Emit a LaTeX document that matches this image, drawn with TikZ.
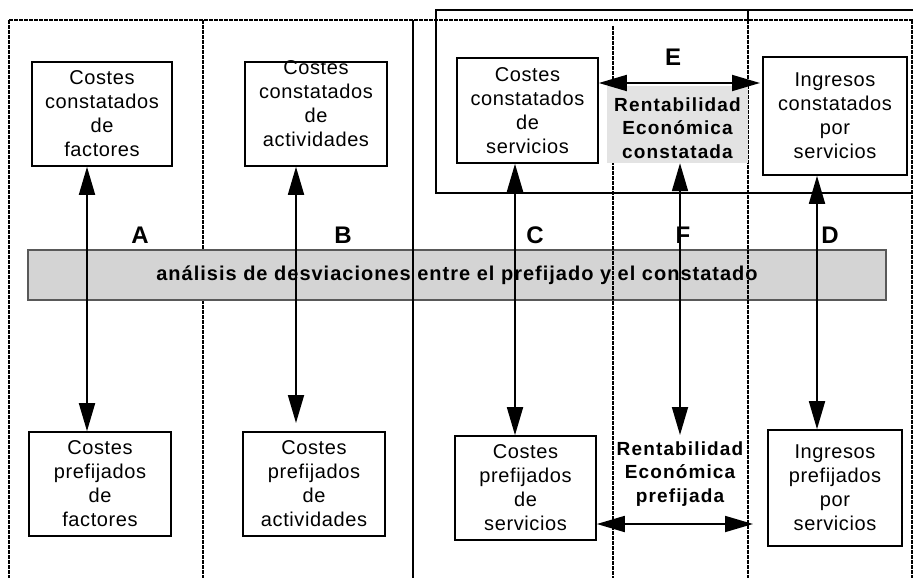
\documentclass[tikz,border=0pt]{standalone}
\usepackage{fontspec}
\setmainfont{Liberation Sans}
\newfontfamily\boxfont[LetterSpace=3]{Liberation Sans}
\newfontfamily\boldbox[LetterSpace=6]{Liberation Sans}
\newfontfamily\bannerfont[LetterSpace=5]{Liberation Sans}
\usetikzlibrary{arrows.meta}
\tikzset{
  box/.style={draw, line width=1.6pt, align=center, inner sep=0pt,
    font=\boxfont\fontsize{20}{24}\selectfont},
  txt/.style={align=center, inner sep=0pt, font=\boxfont\fontsize{20}{24}\selectfont},
  btxt/.style={align=center, inner sep=0pt, font=\boldbox\bfseries\fontsize{19}{23.5}\selectfont},
  lbl/.style={inner sep=0pt, font=\bfseries\fontsize{24}{28}\selectfont},
  biarrow/.style={{Triangle[length=28pt,width=16pt]}-{Triangle[length=28pt,width=16pt]}, line width=1.8pt},
  sepline/.style={line width=1.4pt, dash pattern=on 4pt off 1pt},
  solidline/.style={line width=1.5pt},
}
\begin{document}
\begin{tikzpicture}[x=1pt,y=-1pt]
\useasboundingbox (0,0) rectangle (913,578);
% frame
\draw[sepline] (9,20) -- (913,20);
\draw[sepline] (9,20) -- (9,578);
\draw[sepline] (203,20) -- (203,578);
\draw[sepline] (912,20) -- (912,578);
\draw[solidline] (915,10) -- (436,10) -- (436,193) -- (915,193);
\draw[solidline] (748,10) -- (748,20);
% banner
\node[draw=black!65, line width=1.4pt, fill=black!17, minimum width=858, minimum height=50, inner sep=0pt,
  font=\bannerfont\bfseries\fontsize{20}{24}\selectfont] (banner) at (457,275)
  {an\'alisis de desviaciones entre el prefijado y el constatado};
% section lines over banner
\draw[solidline] (413,20) -- (413,578);
\draw[sepline] (613,26) -- (613,578);
\draw[sepline] (748,20) -- (748,578);
% top boxes
\node[box, minimum width=140, minimum height=104] (ftop) at (102,114) {Costes\\constatados\\de\\factores};
\node[box, minimum width=142, minimum height=104] (atop) at (316,114) {};
\node[txt] (atoptxt) at (316,104) {Costes\\constatados\\de\\actividades};
\node[box, minimum width=141, minimum height=105] (stop) at (527.5,110.5) {Costes\\constatados\\de\\servicios};
\node[fill=black!11, minimum width=141, minimum height=77, inner sep=0pt] (retop) at (677.5,124.5) {};
\node[btxt] (retoptxt) at (677.5,128) {Rentabilidad\\Econ\'omica\\constatada};
\node[box, minimum width=144, minimum height=118] (itop) at (835,116) {Ingresos\\constatados\\por\\servicios};
% bottom boxes
\node[box, minimum width=142, minimum height=104] (fbot) at (100,484) {Costes\\prefijados\\de\\factores};
\node[box, minimum width=142, minimum height=104] (abot) at (314,484) {Costes\\prefijados\\de\\actividades};
\node[box, minimum width=141, minimum height=104] (sbot) at (525.5,488) {Costes\\prefijados\\de\\servicios};
\node[btxt] (rebot) at (680,474) {Rentabilidad\\Econ\'omica\\prefijada};
\node[box, minimum width=134, minimum height=116] (ibot) at (835,488) {Ingresos\\prefijados\\por\\servicios};
% labels
\node[lbl] (la) at (140,235) {A};
\node[lbl] (lb) at (343,235) {B};
\node[lbl] (lc) at (535,235) {C};
\node[lbl] (lf) at (683,235) {F};
\node[lbl] (ld) at (830,235) {D};
\node[lbl] (le) at (673,57) {E};
% connectors
\coordinate (bend) at (296,423);
\coordinate (fend) at (680,435);
\coordinate (eend) at (760,83);
\coordinate (gend) at (753,524);
\draw[biarrow] (ftop.south -| 87,0) -- (fbot.north -| 87,0);
\draw[biarrow] (atop.south -| bend) -- (bend);
\draw[biarrow] (stop.south -| 515,0) -- (sbot.north -| 515,0);
\draw[biarrow] (retop.south -| fend) -- (fend);
\draw[biarrow] (itop.south -| 817,0) -- (ibot.north -| 817,0);
\draw[biarrow] (stop.east |- eend) -- (eend);
\draw[biarrow] (sbot.east |- gend) -- (gend);
\end{tikzpicture}
\end{document}
